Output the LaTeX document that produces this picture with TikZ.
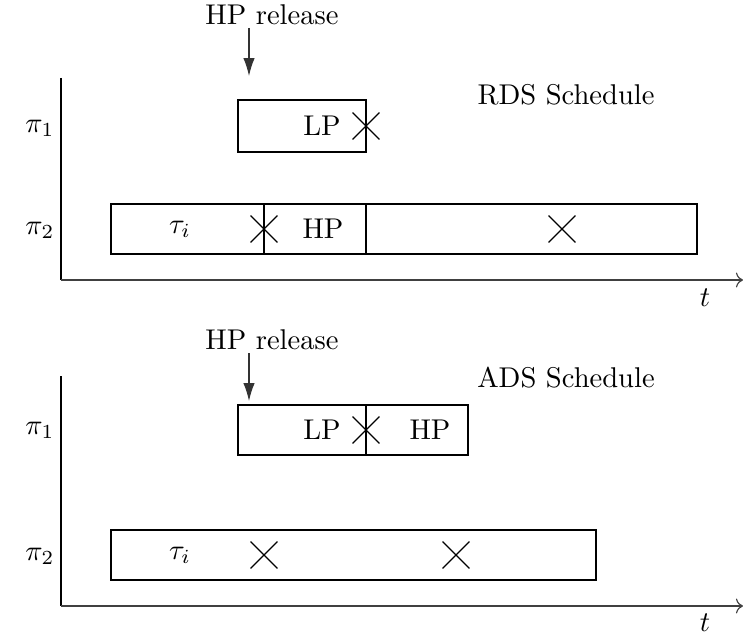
\documentclass[tikz,border=0pt]{standalone}
\usepackage{tikz}
\usetikzlibrary{arrows.meta,shapes.misc}
\tikzset{
  axis/.style={-To,draw=black!75},
  yaxis/.style={draw=black,thick},
  slot/.style={draw=black,thin},
  release/.style={-{Latex[length=2.2mm,width=1.4mm]},draw=black!80},
  xmark/.style={cross out,draw=black,thin,minimum size=9pt,inner sep=0pt},
  lbl/.style={inner sep=0pt,font=\normalsize},
  every node/.style={font=\normalsize}
}
\begin{document}
\begin{tikzpicture}[x=0.35pt,y=-0.35pt]
\useasboundingbox (0,0) rectangle (743,637);
% RDS schedule
\node[lbl] (relA) at (272,15) {HP release};
\coordinate (relAs) at (249,28);
\coordinate (relAe) at (249,76);
\draw[release] (relAs) -- (relAe);
\node[lbl] (rds) at (566,95) {RDS Schedule};
\coordinate (oA) at (61,280);
\coordinate (yA) at (61,78);
\coordinate (tA) at (743,280);
\draw[yaxis] (yA) -- (oA);
\draw[axis] (oA) -- (tA);
\node[lbl] (tlA) at (705,298) {$t$};
\node[lbl] (p1A) at (40,128) {$\pi_1$};
\node[lbl] (p2A) at (40,230) {$\pi_2$};
\draw[slot] (238,100) rectangle (366,152);
\node[lbl] (lpA) at (322,126) {LP};
\node[xmark] (xA1) at (366,126) {};
\draw[slot] (111,204) rectangle (697,254);
\draw[slot] (264,204) -- (264,254);
\draw[slot] (366,204) -- (366,254);
\node[lbl] (tauA) at (180,229) {$\tau_i$};
\node[xmark] (xA2) at (264,229) {};
\node[lbl] (hpA) at (323,229) {HP};
\node[xmark] (xA3) at (562,229) {};
% ADS schedule
\node[lbl] (relB) at (272,340) {HP release};
\coordinate (relBs) at (249,353);
\coordinate (relBe) at (249,401);
\draw[release] (relBs) -- (relBe);
\node[lbl] (ads) at (566,378) {ADS Schedule};
\coordinate (oB) at (61,606);
\coordinate (yB) at (61,376);
\coordinate (tB) at (743,606);
\draw[yaxis] (yB) -- (oB);
\draw[axis] (oB) -- (tB);
\node[lbl] (tlB) at (705,623) {$t$};
\node[lbl] (p1B) at (40,430) {$\pi_1$};
\node[lbl] (p2B) at (40,556) {$\pi_2$};
\draw[slot] (238,405) rectangle (468,455);
\draw[slot] (366,405) -- (366,455);
\node[lbl] (lpB) at (322,430) {LP};
\node[xmark] (xB1) at (366,430) {};
\node[lbl] (hpB) at (430,430) {HP};
\draw[slot] (111,530) rectangle (596,580);
\node[lbl] (tauB) at (180,555) {$\tau_i$};
\node[xmark] (xB2) at (264,555) {};
\node[xmark] (xB3) at (456,555) {};
\end{tikzpicture}
\end{document}
